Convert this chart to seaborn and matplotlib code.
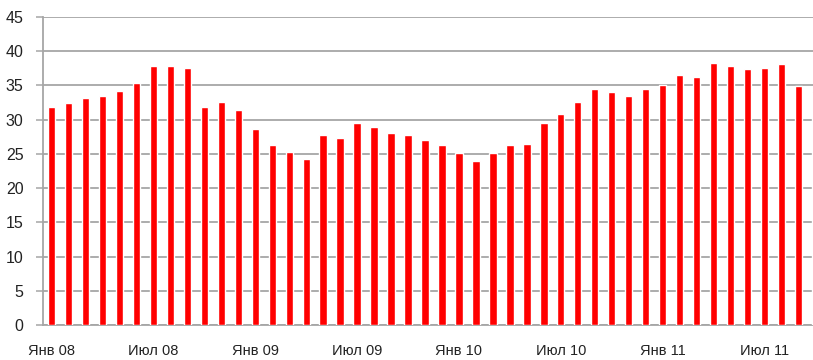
import matplotlib
matplotlib.use("Agg")
import matplotlib.pyplot as plt
import seaborn as sns
import pandas as pd

# Monthly series, Jan 2008 onward
month_names = ["Янв", "Фев", "Мар", "Апр", "Май", "Июн",
               "Июл", "Авг", "Сен", "Окт", "Ноя", "Дек"]
years = ["08", "09", "10", "11"]
values = [
    31.8, 32.4, 33.2, 33.4, 34.2, 35.3, 37.8, 37.8, 37.5, 31.8, 32.6, 31.4,   # 2008
    28.7, 26.3, 25.3, 24.3, 27.7, 27.3, 29.5, 28.9, 28.1, 27.7, 27.1, 26.3,   # 2009
    25.1, 24.0, 25.1, 26.3, 26.5, 29.5, 30.8, 32.6, 34.5, 34.1, 33.4, 34.5,   # 2010
    35.1, 36.5, 36.3, 38.3, 37.8, 37.4, 37.6, 38.1, 34.9, 34.1,               # 2011
]
months = [f"{month_names[i % 12]} {years[i // 12]}" for i in range(len(values))]
label_every = 6
y_ticks = list(range(0, 50, 5))

df = pd.DataFrame({"month": months, "value": values})

sns.set_theme(style="white")
plt.rcParams["font.family"] = ["Liberation Sans", "DejaVu Sans"]

fig = plt.figure(figsize=(8.13, 3.60), dpi=100)
# axes runs slightly past the right edge of the figure, so the last bar is cut off
ax = fig.add_axes([43 / 813, 35 / 360, 781 / 813, 308 / 360])

grid_color = "#a6a6a6"
sns.barplot(data=df, x="month", y="value", color="#ff0000", saturation=1,
            width=0.43, ax=ax, zorder=3)

ax.set_xlim(-0.5, len(values) - 0.5)
ax.set_ylim(0, 45)
ax.set_yticks(y_ticks)
ax.set_yticklabels([str(t) for t in y_ticks], fontsize=11.5, color="#222222")
ax.yaxis.grid(True, color=grid_color, linewidth=1.3, zorder=0)
ax.set_axisbelow(True)

# labelled months every half year, small tick marks at every category boundary
label_pos = list(range(0, len(values), label_every))
ax.set_xticks(label_pos)
ax.set_xticklabels([months[i] for i in label_pos], fontsize=10.5, color="#222222")
ax.set_xticks([i - 0.5 for i in range(len(values) + 1)], minor=True)
ax.tick_params(axis="x", which="major", length=0, pad=13.5)
ax.tick_params(axis="x", which="minor", length=5, width=1.1, color=grid_color, direction="out")
ax.tick_params(axis="y", which="major", length=5, width=1.1, color=grid_color,
               direction="out", left=True, pad=9)

for side in ("top", "right"):
    ax.spines[side].set_visible(False)
for side in ("left", "bottom"):
    ax.spines[side].set_visible(True)
    ax.spines[side].set_color(grid_color)
    ax.spines[side].set_linewidth(1.3)

ax.set_xlabel("")
ax.set_ylabel("")
fig.savefig("out.png", dpi=100, facecolor="white")
